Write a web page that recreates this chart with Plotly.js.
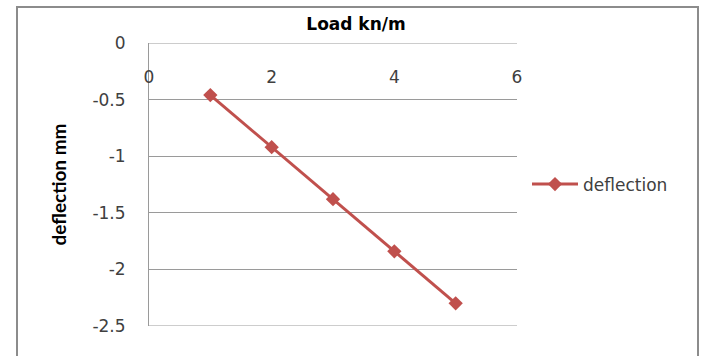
<!DOCTYPE html>
<html>
<head>
<meta charset="utf-8">
<script src="https://cdn.plot.ly/plotly-3.0.1.min.js"></script>
<style>
  html, body { margin: 0; padding: 0; background: #ffffff; }
  #wrap { position: relative; width: 705px; height: 356px; overflow: hidden; }
  #chart { position: absolute; left: 0; top: 0; width: 705px; height: 356px; }
  #frame {
    position: absolute; left: 16px; top: 6px; width: 683px; height: 370px;
    border: 2px solid #8c8c8c; pointer-events: none; box-sizing: border-box;
  }
</style>
</head>
<body>
<div id="wrap">
  <div id="chart"></div>
  <div id="frame"></div>
</div>
<script>
// Load (kN/m) against measured deflection (mm)
const load = [1, 2, 3, 4, 5];
const deflection = [-0.46, -0.92, -1.38, -1.84, -2.30];

const xTickVals = [0, 2, 4, 6];
const xTickText = ['0', '2', '4', '6'];
const yTickVals = [0, -0.5, -1, -1.5, -2, -2.5];
const yTickText = ['0', '-0.5', '-1', '-1.5', '-2', '-2.5'];

const seriesName = 'deflection';
const chartTitle = 'Load kn/m';
const yTitle = 'deflection mm';

const red = '#c0504d';
const grid = '#9a9a9a';
const labelFont = { family: 'DejaVu Sans', size: 17, color: '#404040' };

const trace = {
  x: load,
  y: deflection,
  name: seriesName,
  type: 'scatter',
  mode: 'lines+markers',
  line: { color: red, width: 3 },
  marker: { symbol: 'diamond', size: 11, color: red },
  cliponaxis: false
};

// Plotly drops gridlines sitting on the range ends, so the first and last
// ones are drawn as shapes at those tick values.
const edgeGridlines = [yTickVals[0], yTickVals[yTickVals.length - 1]].map(v => ({
  type: 'line',
  xref: 'paper', x0: 0, x1: 1,
  yref: 'y', y0: v, y1: v,
  line: { color: grid, width: 1 },
  layer: 'below'
}));

const layout = {
  width: 705,
  height: 356,
  margin: { l: 149, r: 188, t: 43, b: 30 },
  paper_bgcolor: '#ffffff',
  plot_bgcolor: '#ffffff',
  showlegend: true,
  shapes: edgeGridlines,
  title: {
    text: chartTitle,
    font: { family: 'DejaVu Sans', size: 17, color: '#000000', weight: 'bold' },
    x: 356 / 705, xref: 'container', xanchor: 'center',
    y: 1 - 24 / 356, yref: 'container', yanchor: 'middle'
  },
  xaxis: {
    range: [0, 6],
    tickvals: xTickVals,
    ticktext: xTickText,
    anchor: 'free',
    position: 1,
    side: 'bottom',
    showgrid: false,
    zeroline: false,
    showline: false,
    ticks: '',
    ticklabelstandoff: 22,
    tickfont: labelFont,
    fixedrange: true
  },
  yaxis: {
    range: [-2.5, 0],
    tickvals: yTickVals,
    ticktext: yTickText,
    showgrid: true,
    gridcolor: grid,
    gridwidth: 1,
    zeroline: false,
    showline: true,
    linecolor: grid,
    linewidth: 1,
    ticks: '',
    ticklabelstandoff: 19,
    tickfont: labelFont,
    title: {
      text: yTitle,
      font: { family: 'Lato', size: 19, color: '#000000', weight: 'bold' },
      standoff: 20
    },
    fixedrange: true
  },
  legend: {
    x: (527 - 149) / 368,
    xanchor: 'left',
    y: 0.5,
    yanchor: 'middle',
    font: { family: 'DejaVu Sans', size: 17, color: '#404040' },
    bgcolor: 'rgba(0,0,0,0)',
    itemwidth: 46
  }
};

Plotly.newPlot('chart', [trace], layout, { displayModeBar: false, staticPlot: true });
</script>
</body>
</html>
